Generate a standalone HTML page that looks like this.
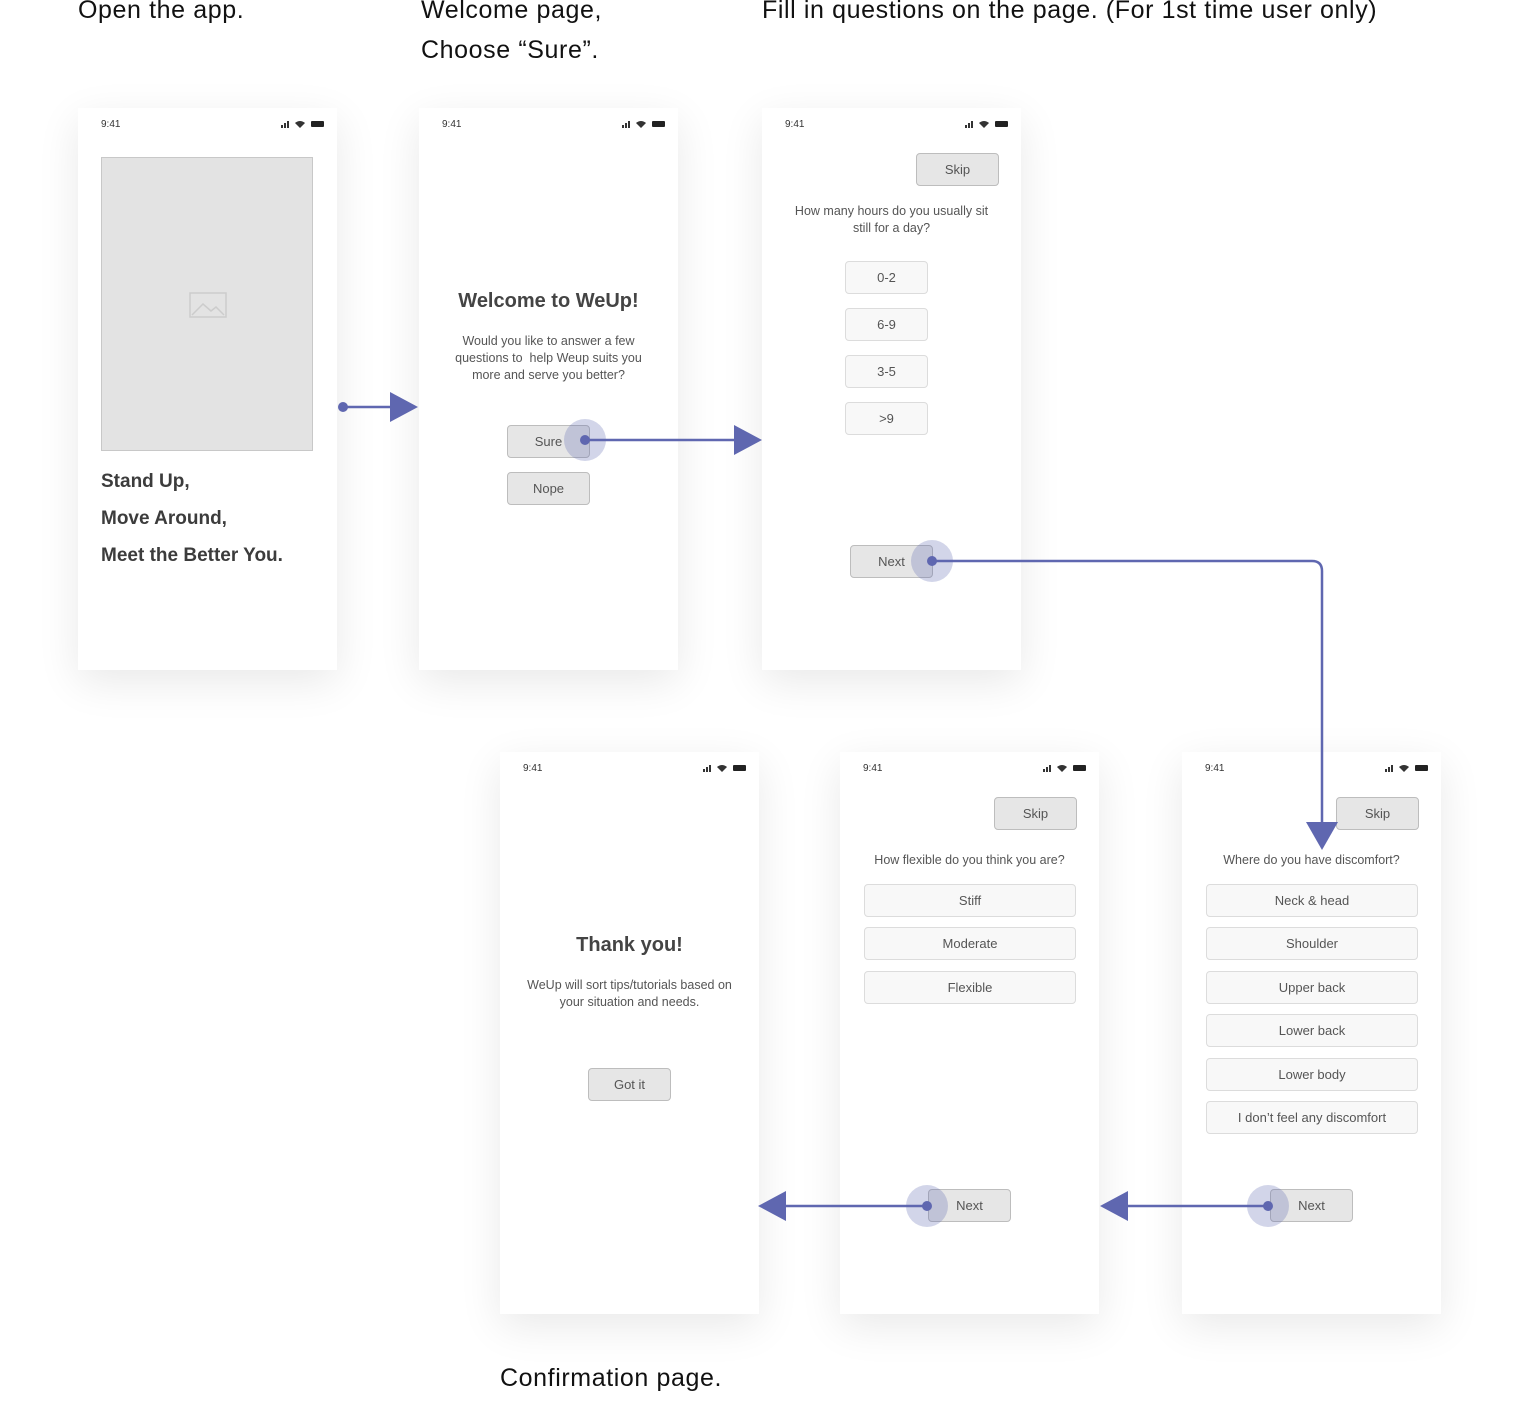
<!DOCTYPE html>
<html><head><meta charset="utf-8"><style>
body{margin:0;width:1518px;height:1416px;background:#fff;position:relative;overflow:hidden;font-family:"Liberation Sans",sans-serif;color:#222}
.a{position:absolute}
.cap{position:absolute;font-size:25px;letter-spacing:0.6px;color:#111;line-height:40px;white-space:nowrap}
.ph{position:absolute;width:259px;height:562px;background:#fff;box-shadow:0 12px 40px rgba(0,0,0,0.09)}
.t{position:absolute;left:23px;top:11px;font-size:10px;color:#333}
.st{position:absolute;right:12px;top:12px;width:44px;height:8px}
.b{position:absolute;background:#e6e6e6;border:1px solid #bdbdbd;border-radius:4px;box-sizing:border-box;text-align:center;font-size:13px;color:#555;}
.o{position:absolute;background:#f8f8f8;border:1px solid #dcdcdc;border-radius:4px;box-sizing:border-box;text-align:center;font-size:13px;color:#555;}
.tx{position:absolute;text-align:center;color:#555;font-size:12.5px;line-height:17px}
</style></head><body>
<div class="cap" style="left:78px;top:-10px">Open the app.</div>
<div class="cap" style="left:421px;top:-10px">Welcome page,<br>Choose “Sure”.</div>
<div class="cap" style="left:762px;top:-10px">Fill in questions on the page. (For 1st time user only)</div>
<div class="cap" style="left:500px;top:1358px">Confirmation page.</div>

<!-- phone 1 -->
<div class="ph" style="left:78px;top:108px">
<div class="t">9:41</div><svg class="st" viewBox="0 0 44 8"><rect x="0" y="5" width="2" height="3" fill="#333"/><rect x="3" y="3" width="2" height="5" fill="#333"/><rect x="6" y="1" width="2" height="7" fill="#333"/><path d="M14 3 Q19 -1 24 3 L19 8Z" fill="#333"/><rect x="30" y="1" width="13" height="6" rx="1" fill="#222"/></svg>
<div class="a" style="left:23px;top:49px;width:210px;height:292px;background:#e3e3e3;border:1px solid #c8c8c8"></div>
<svg class="a" style="left:111px;top:184px" width="38" height="26"><rect x="1" y="1" width="36" height="24" fill="none" stroke="#ccc" stroke-width="1.5"/><path d="M3 23 L14 12 L22 19 L27 15 L35 23" fill="none" stroke="#ccc" stroke-width="1.5"/></svg>
<div class="a" style="left:23px;top:355px;font-size:19px;color:#3c3c3c;line-height:37px;font-weight:600">Stand Up,<br>Move Around,<br>Meet the Better You.</div>
</div>

<!-- phone 2 -->
<div class="ph" style="left:419px;top:108px">
<div class="t">9:41</div><svg class="st" viewBox="0 0 44 8"><rect x="0" y="5" width="2" height="3" fill="#333"/><rect x="3" y="3" width="2" height="5" fill="#333"/><rect x="6" y="1" width="2" height="7" fill="#333"/><path d="M14 3 Q19 -1 24 3 L19 8Z" fill="#333"/><rect x="30" y="1" width="13" height="6" rx="1" fill="#222"/></svg>
<div class="tx" style="left:0;width:259px;top:181px;font-size:20px;color:#444;line-height:24px;font-weight:600">Welcome to WeUp!</div>
<div class="tx" style="left:0;width:259px;top:225px">Would you like to answer a few<br>questions to&nbsp; help Weup suits you<br>more and serve you better?</div>
<div class="b" style="left:88px;top:317px;width:83px;height:33px;line-height:31px">Sure</div>
<div class="b" style="left:88px;top:364px;width:83px;height:33px;line-height:31px">Nope</div>
</div>

<!-- phone 3 -->
<div class="ph" style="left:762px;top:108px">
<div class="t">9:41</div><svg class="st" viewBox="0 0 44 8"><rect x="0" y="5" width="2" height="3" fill="#333"/><rect x="3" y="3" width="2" height="5" fill="#333"/><rect x="6" y="1" width="2" height="7" fill="#333"/><path d="M14 3 Q19 -1 24 3 L19 8Z" fill="#333"/><rect x="30" y="1" width="13" height="6" rx="1" fill="#222"/></svg>
<div class="b" style="left:154px;top:45px;width:83px;height:33px;line-height:31px">Skip</div>
<div class="tx" style="left:0;width:259px;top:95px">How many hours do you usually sit<br>still for a day?</div>
<div class="o" style="left:83px;top:153px;width:83px;height:33px;line-height:31px">0-2</div>
<div class="o" style="left:83px;top:200px;width:83px;height:33px;line-height:31px">6-9</div>
<div class="o" style="left:83px;top:247px;width:83px;height:33px;line-height:31px">3-5</div>
<div class="o" style="left:83px;top:294px;width:83px;height:33px;line-height:31px">&gt;9</div>
<div class="b" style="left:88px;top:437px;width:83px;height:33px;line-height:31px">Next</div>
</div>

<!-- phone 4 thank you -->
<div class="ph" style="left:500px;top:752px">
<div class="t">9:41</div><svg class="st" viewBox="0 0 44 8"><rect x="0" y="5" width="2" height="3" fill="#333"/><rect x="3" y="3" width="2" height="5" fill="#333"/><rect x="6" y="1" width="2" height="7" fill="#333"/><path d="M14 3 Q19 -1 24 3 L19 8Z" fill="#333"/><rect x="30" y="1" width="13" height="6" rx="1" fill="#222"/></svg>
<div class="tx" style="left:0;width:259px;top:181px;font-size:20px;color:#444;line-height:24px;font-weight:600">Thank you!</div>
<div class="tx" style="left:0;width:259px;top:225px">WeUp will sort tips/tutorials based on<br>your situation and needs.</div>
<div class="b" style="left:88px;top:316px;width:83px;height:33px;line-height:31px">Got it</div>
</div>

<!-- phone 5 flexible -->
<div class="ph" style="left:840px;top:752px">
<div class="t">9:41</div><svg class="st" viewBox="0 0 44 8"><rect x="0" y="5" width="2" height="3" fill="#333"/><rect x="3" y="3" width="2" height="5" fill="#333"/><rect x="6" y="1" width="2" height="7" fill="#333"/><path d="M14 3 Q19 -1 24 3 L19 8Z" fill="#333"/><rect x="30" y="1" width="13" height="6" rx="1" fill="#222"/></svg>
<div class="b" style="left:154px;top:45px;width:83px;height:33px;line-height:31px">Skip</div>
<div class="tx" style="left:0;width:259px;top:100px">How flexible do you think you are?</div>
<div class="o" style="left:24px;top:132px;width:212px;height:33px;line-height:31px">Stiff</div>
<div class="o" style="left:24px;top:175px;width:212px;height:33px;line-height:31px">Moderate</div>
<div class="o" style="left:24px;top:219px;width:212px;height:33px;line-height:31px">Flexible</div>
<div class="b" style="left:88px;top:437px;width:83px;height:33px;line-height:31px">Next</div>
</div>

<!-- phone 6 discomfort -->
<div class="ph" style="left:1182px;top:752px">
<div class="t">9:41</div><svg class="st" viewBox="0 0 44 8"><rect x="0" y="5" width="2" height="3" fill="#333"/><rect x="3" y="3" width="2" height="5" fill="#333"/><rect x="6" y="1" width="2" height="7" fill="#333"/><path d="M14 3 Q19 -1 24 3 L19 8Z" fill="#333"/><rect x="30" y="1" width="13" height="6" rx="1" fill="#222"/></svg>
<div class="b" style="left:154px;top:45px;width:83px;height:33px;line-height:31px">Skip</div>
<div class="tx" style="left:0;width:259px;top:100px">Where do you have discomfort?</div>
<div class="o" style="left:24px;top:132px;width:212px;height:33px;line-height:31px">Neck &amp; head</div>
<div class="o" style="left:24px;top:175px;width:212px;height:33px;line-height:31px">Shoulder</div>
<div class="o" style="left:24px;top:219px;width:212px;height:33px;line-height:31px">Upper back</div>
<div class="o" style="left:24px;top:262px;width:212px;height:33px;line-height:31px">Lower back</div>
<div class="o" style="left:24px;top:306px;width:212px;height:33px;line-height:31px">Lower body</div>
<div class="o" style="left:24px;top:349px;width:212px;height:33px;line-height:31px">I don’t feel any discomfort</div>
<div class="b" style="left:88px;top:437px;width:83px;height:33px;line-height:31px">Next</div>
</div>

<svg class="a" style="left:0;top:0" width="1518" height="1416">
<g fill="#5f67b0" stroke="#5f67b0">
<circle cx="343" cy="407" r="5" stroke="none"/><line x1="343" y1="407" x2="395" y2="407" stroke-width="2.5"/><polygon points="390,392 418,407 390,422" stroke="none"/>
<circle cx="585" cy="440" r="21" fill="rgba(95,103,176,0.28)" stroke="none"/><circle cx="585" cy="440" r="5" stroke="none"/><line x1="585" y1="440" x2="740" y2="440" stroke-width="2.5"/><polygon points="734,425 762,440 734,455" stroke="none"/>
<circle cx="932" cy="561" r="21" fill="rgba(95,103,176,0.28)" stroke="none"/><circle cx="932" cy="561" r="5" stroke="none"/><path d="M932 561 H1312 Q1322 561 1322 571 V830" fill="none" stroke-width="2.5"/><polygon points="1306,822 1338,822 1322,850" stroke="none"/>
<circle cx="1268" cy="1206" r="21" fill="rgba(95,103,176,0.28)" stroke="none"/><circle cx="1268" cy="1206" r="5" stroke="none"/><line x1="1268" y1="1206" x2="1120" y2="1206" stroke-width="2.5"/><polygon points="1128,1191 1100,1206 1128,1221" stroke="none"/>
<circle cx="927" cy="1206" r="21" fill="rgba(95,103,176,0.28)" stroke="none"/><circle cx="927" cy="1206" r="5" stroke="none"/><line x1="927" y1="1206" x2="780" y2="1206" stroke-width="2.5"/><polygon points="786,1191 758,1206 786,1221" stroke="none"/>
</g></svg>
</body></html>
